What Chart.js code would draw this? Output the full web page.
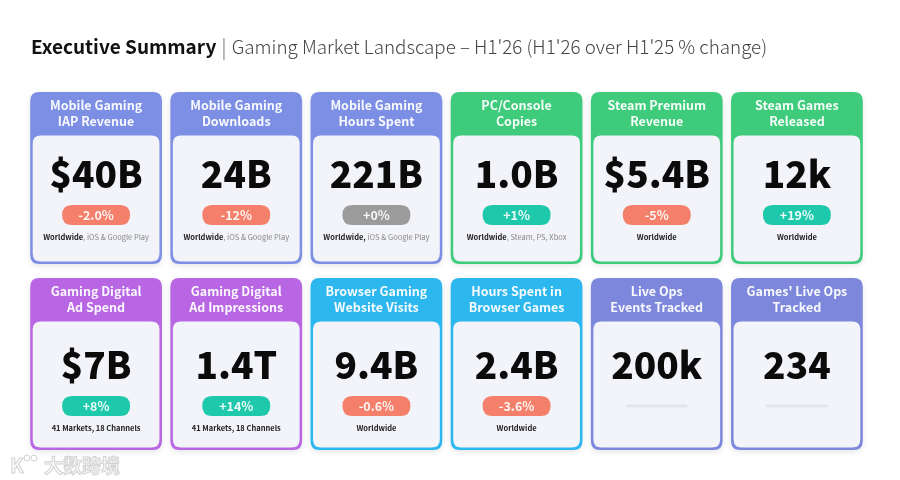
<!DOCTYPE html>
<html>
<head>
<meta charset="utf-8">
<script src="https://cdn.jsdelivr.net/npm/chart.js@4.4.1/dist/chart.umd.min.js"></script>
<style>
  body { margin: 0; background: #fff; }
  #kpi { display: block; }
</style>
</head>
<body>
<canvas id="kpi" width="900" height="480"></canvas>
<script>
const columnCount = 6;
const titles = [
  ['Mobile Gaming', 'IAP Revenue'], ['Mobile Gaming', 'Downloads'], ['Mobile Gaming', 'Hours Spent'],
  ['PC/Console', 'Copies'], ['Steam Premium', 'Revenue'], ['Steam Games', 'Released'],
  ['Gaming Digital', 'Ad Spend'], ['Gaming Digital', 'Ad Impressions'], ['Browser Gaming', 'Website Visits'],
  ['Hours Spent in', 'Browser Games'], ['Live Ops', 'Events Tracked'], ["Games' Live Ops", 'Tracked']
];
const values = ['$40B', '24B', '221B', '1.0B', '$5.4B', '12k', '$7B', '1.4T', '9.4B', '2.4B', '200k', '234'];
const changes = [-2.0, -12, 0, 1, -5, 19, 8, 14, -0.6, -3.6, null, null];
const changeLabels = ['-2.0%', '-12%', '+0%', '+1%', '-5%', '+19%', '+8%', '+14%', '-0.6%', '-3.6%', null, null];
const noteLeads = ['Worldwide', 'Worldwide', 'Worldwide,', 'Worldwide', 'Worldwide', 'Worldwide',
  '41 Markets, 18 Channels', '41 Markets, 18 Channels', 'Worldwide', 'Worldwide', '', ''];
const noteRests = [', iOS & Google Play', ', iOS & Google Play', ' iOS & Google Play', ', Steam, PS, Xbox', '', '',
  '', '', '', '', '', ''];
const groups = ['mobile', 'mobile', 'mobile', 'pc', 'pc', 'pc', 'ads', 'ads', 'browser', 'browser', 'liveops', 'liveops'];

const groupColors = {
  mobile: '#7d8fe4', pc: '#3ecb7c', ads: '#b866e4', browser: '#2cb7ef', liveops: '#7d88dc'
};
const FONT = '"Noto Sans CJK SC", "Noto Sans", sans-serif';

function rr(ctx, x, y, w, h, r) {
  ctx.beginPath();
  ctx.moveTo(x + r, y);
  ctx.lineTo(x + w - r, y);
  ctx.quadraticCurveTo(x + w, y, x + w, y + r);
  ctx.lineTo(x + w, y + h - r);
  ctx.quadraticCurveTo(x + w, y + h, x + w - r, y + h);
  ctx.lineTo(x + r, y + h);
  ctx.quadraticCurveTo(x, y + h, x, y + h - r);
  ctx.lineTo(x, y + r);
  ctx.quadraticCurveTo(x, y, x + r, y);
  ctx.closePath();
}

const headerPlugin = {
  id: 'header',
  beforeDraw(chart) {
    const ctx = chart.ctx;
    ctx.save();
    ctx.fillStyle = '#fff';
    ctx.fillRect(0, 0, chart.width, chart.height);
    ctx.textBaseline = 'middle';
    ctx.textAlign = 'left';
    ctx.fillStyle = '#111';
    ctx.font = 'bold 19px ' + FONT;
    const t1 = 'Executive Summary';
    ctx.fillText(t1, 31, 47);
    let x = 31 + ctx.measureText(t1).width + 5;
    ctx.fillStyle = '#999';
    ctx.font = '20px ' + FONT;
    ctx.fillText('|', x, 47);
    x += ctx.measureText('|').width + 5;
    ctx.fillStyle = '#444';
    ctx.font = '300 18.8px ' + FONT;
    ctx.fillText("Gaming Market Landscape \u2013 H1'26 (H1'26 over H1'25 % change)", x, 47);

    // watermark
    ctx.strokeStyle = '#d2d2d2';
    ctx.fillStyle = '#fafafa';
    ctx.lineWidth = 1;
    ctx.font = 'bold 20px ' + FONT;
    ctx.fillText('K', 10, 465);
    ctx.strokeText('K', 10, 465);
    ctx.beginPath(); ctx.arc(27, 458, 3, 0, Math.PI * 2); ctx.stroke();
    ctx.beginPath(); ctx.arc(34, 458, 3, 0, Math.PI * 2); ctx.stroke();
    ctx.font = 'bold 19px ' + FONT;
    ctx.fillText('大数跨境', 44, 466);
    ctx.strokeText('大数跨境', 44, 466);
    ctx.restore();
  }
};

const cardsPlugin = {
  id: 'cards',
  afterDatasetsDraw(chart) {
    const ctx = chart.ctx;
    const xs = chart.scales.x, ys = chart.scales.y;
    const pitchX = Math.abs(xs.getPixelForValue(1) - xs.getPixelForValue(0));
    const pitchY = Math.abs(ys.getPixelForValue(1) - ys.getPixelForValue(0));
    const w = pitchX * 0.94, h = pitchY * 0.925;
    const meta = chart.getDatasetMeta(0);
    meta.data.forEach((pt, i) => {
      const x0 = pt.x - w / 2, y0 = pt.y - h / 2;
      const row = Math.floor(i / columnCount);
      const shift = row === 0 ? 0 : 5;
      const col = groupColors[groups[i]];
      ctx.save();
      // outer card
      ctx.shadowColor = 'rgba(0,0,0,0.10)';
      ctx.shadowBlur = 6;
      ctx.shadowOffsetY = 2;
      ctx.fillStyle = col;
      rr(ctx, x0, y0, w, h, 9);
      ctx.fill();
      ctx.shadowColor = 'transparent';
      // inner body
      ctx.fillStyle = '#f3f4fa';
      rr(ctx, x0 + 2.5, y0 + 43.5, w - 5, h - 46, 8);
      ctx.fill();
      // title
      ctx.textAlign = 'center';
      ctx.textBaseline = 'middle';
      ctx.fillStyle = 'rgba(255,255,255,0.95)';
      ctx.font = 'bold 12.5px ' + FONT;
      ctx.fillText(titles[i][0], pt.x, y0 + 13.5);
      ctx.fillText(titles[i][1], pt.x, y0 + 29.5);
      // value
      ctx.fillStyle = '#0b0b0b';
      ctx.font = '900 37px ' + FONT;
      ctx.fillText(values[i], pt.x, y0 + 82 + shift);
      // badge
      const by = y0 + 123 + shift;
      if (changes[i] !== null) {
        ctx.fillStyle = changes[i] > 0 ? '#1ec8aa' : (changes[i] < 0 ? '#f47f6a' : '#9b9b9b');
        rr(ctx, pt.x - 34, by - 10, 68, 20, 10);
        ctx.fill();
        ctx.fillStyle = 'rgba(255,255,255,0.92)';
        ctx.font = 'bold 12.5px ' + FONT;
        ctx.fillText(changeLabels[i], pt.x, by + 0.5);
      } else {
        ctx.fillStyle = '#e2e4ec';
        rr(ctx, pt.x - 31, by - 1.5, 62, 3, 1.5);
        ctx.fill();
      }
      // note
      if (noteLeads[i]) {
        ctx.font = 'bold 7.5px ' + FONT;
        const lw = ctx.measureText(noteLeads[i]).width;
        ctx.font = '7.5px ' + FONT;
        const rw = ctx.measureText(noteRests[i]).width;
        let nx = pt.x - (lw + rw) / 2;
        const ny = y0 + 145 + shift;
        ctx.textAlign = 'left';
        ctx.font = 'bold 7.5px ' + FONT;
        ctx.fillStyle = '#222';
        ctx.fillText(noteLeads[i], nx, ny);
        ctx.font = '7.5px ' + FONT;
        ctx.fillStyle = '#888';
        ctx.fillText(noteRests[i], nx + lw, ny);
      }
      ctx.restore();
    });
  }
};

new Chart(document.getElementById('kpi'), {
  type: 'scatter',
  data: {
    datasets: [{
      data: values.map((v, i) => ({ x: i % columnCount, y: Math.floor(i / columnCount) })),
      pointRadius: 0,
      pointHoverRadius: 0
    }]
  },
  options: {
    responsive: false,
    animation: false,
    events: [],
    layout: { padding: { left: 26, right: 33, top: 85, bottom: 23 } },
    scales: {
      x: { type: 'linear', min: -0.5, max: columnCount - 0.5, display: false },
      y: { type: 'linear', min: -0.5, max: 1.5, reverse: true, display: false }
    },
    plugins: { legend: { display: false }, tooltip: { enabled: false } }
  },
  plugins: [headerPlugin, cardsPlugin]
});
</script>
</body>
</html>
